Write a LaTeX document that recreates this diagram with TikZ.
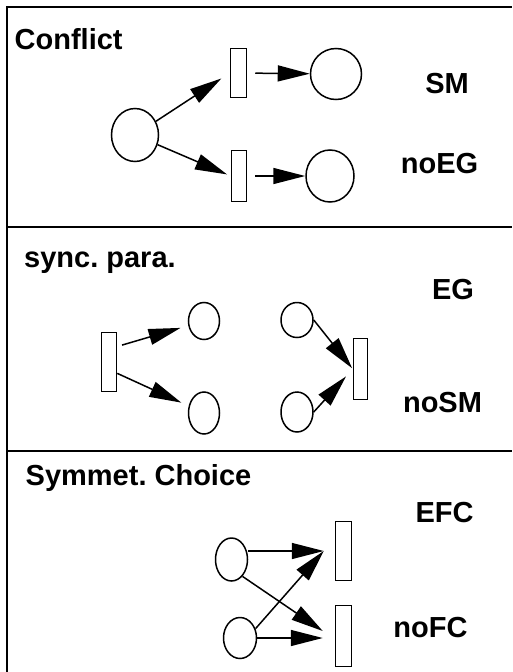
\documentclass[tikz,border=0pt]{standalone}
\usepackage{fontspec}
\setmainfont{Liberation Sans}
\usepackage{tikz}
\usetikzlibrary{shapes.geometric,arrows.meta}
\frenchspacing

\begin{document}
\begin{tikzpicture}[x=1pt, y=-1pt,
		place/.style={draw, ellipse, line width=1.5pt, inner sep=0pt},
		trans/.style={draw, rectangle, line width=1.5pt, inner sep=0pt},
		arc/.style={line width=1.5pt, -{Triangle[length=32pt, width=16pt]}},
		lbl/.style={inner sep=0pt, font=\fontsize{29}{34}\selectfont\bfseries},
		frame/.style={line width=2.5pt}]
			\useasboundingbox (0,0) rectangle (512,672);

			\draw[frame] (7,672) -- (7,7) -- (512,7);
			\draw[frame] (7,227) -- (512,227);
			\draw[frame] (7,451) -- (512,451);

			\node[lbl, anchor=base west] (conflict) at (14.5,49) {Conflict};
			\node[lbl, anchor=base] (sm) at (447,93) {SM};
			\node[lbl, anchor=base] (noeg) at (439.5,173) {noEG};

			\node[place, minimum width=47pt, minimum height=53pt] (p0) at (135,135) {};
			\node[trans, minimum width=16pt, minimum height=49pt] (t1) at (238.5,73) {};
			\node[trans, minimum width=15pt, minimum height=51pt] (t2) at (239,176) {};
			\node[place, minimum width=51pt, minimum height=51pt] (p1) at (336,74) {};
			\node[place, minimum width=48pt, minimum height=52pt] (p2) at (330,176) {};

			\draw[arc, shorten >=10pt] (p0) to (t1.west);
			\draw[arc, shorten >=4pt] (p0) to (t2.west);
			\draw[arc, shorten <=8pt] (t1) to (p1);
			\draw[arc, shorten <=8pt] (t2) to (p2);

			\node[lbl, anchor=base west] (sync) at (24,267) {sync. para.};
			\node[lbl, anchor=base] (eg) at (453,299) {EG};
			\node[lbl, anchor=base] (nosm) at (442.5,412) {noSM};

			\node[trans, minimum width=15pt, minimum height=59pt] (r1) at (109,362) {};
			\node[place, minimum width=31pt, minimum height=37pt] (q1) at (204,321) {};
			\node[place, minimum width=31pt, minimum height=42pt] (q2) at (204,413) {};
			\node[place, minimum width=32pt, minimum height=35pt] (q3) at (297,320) {};
			\node[place, minimum width=32pt, minimum height=40pt] (q4) at (297,412) {};
			\node[trans, minimum width=14pt, minimum height=61pt] (r2) at (360.5,369) {};

			\draw[arc, shorten <=5pt, shorten >=8pt] (r1.62) to (q1);
			\draw[arc, shorten >=8pt] (r1.-54) to (q2);
			\draw[arc, shorten >=1pt] (q3.east) to (r2.west);
			\draw[arc, shorten >=10pt] (q4.east) to (r2.west);

			\node[lbl, anchor=base west] (symm) at (25.5,485) {Symmet. Choice};
			\node[lbl, anchor=base] (efc) at (444.5,522) {EFC};
			\node[lbl, anchor=base] (nofc) at (430.5,637) {noFC};

			\node[place, minimum width=32pt, minimum height=43pt] (c1) at (231.5,559.5) {};
			\node[place, minimum width=33pt, minimum height=41pt] (c2) at (240,638) {};
			\node[trans, minimum width=16pt, minimum height=59pt] (s1) at (343.5,551) {};
			\node[trans, minimum width=16pt, minimum height=61pt] (s2) at (343.5,636) {};
			\coordinate (s1in) at ([xshift=-11pt]s1.west);
			\coordinate (s2in) at ([xshift=-12pt]s2.west);

			\draw[arc] (c1.east |- s1in) to (s1in);
			\draw[arc] (c2.31) to (s1in);
			\draw[arc] (c1.-57) to ([yshift=5pt]s2in);
			\draw[arc] (c2.east) to (c2.east -| s2in);
		\end{tikzpicture}
\end{document}
